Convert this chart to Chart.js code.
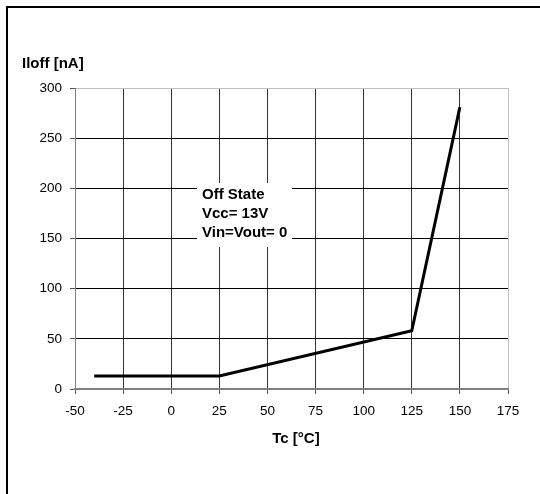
<!DOCTYPE html>
<html>
<head>
<meta charset="utf-8">
<script src="https://cdn.jsdelivr.net/npm/chart.js@4.4.1/dist/chart.umd.min.js"></script>
<style>
  html, body { margin: 0; padding: 0; background: #fff; }
  #wrap { width: 540px; height: 494px; position: relative; }
</style>
</head>
<body>
<div id="wrap"><canvas id="iloffChart"></canvas></div>
<script>
// Leakage current vs case temperature
const temperaturas = [-40, 25, 125, 150];
const correnteIloff = [13, 13, 58, 281];
const ticksX = [-50, -25, 0, 25, 50, 75, 100, 125, 150, 175];
const ticksY = [0, 50, 100, 150, 200, 250, 300];
const tituloY = 'Iloff [nA]';
const tituloX = 'Tc [°C]';
const notas = ['Off State', 'Vcc= 13V', 'Vin=Vout= 0'];

const fonteTexto = '"Liberation Sans", Arial, sans-serif';

// Moldura, títulos e caixa de notas desenhados direto no canvas
const extrasPlugin = {
    id: 'extras',
    beforeDraw(chart) {
        const c = chart.ctx;
        c.save();
        c.fillStyle = '#fff';
        c.fillRect(0, 0, chart.width, chart.height);
        c.fillStyle = '#000';
        c.fillRect(6, 6, chart.width - 6, 2);
        c.fillRect(6, 6, 2, chart.height - 6);
        c.restore();
    },
    beforeDatasetsDraw(chart) {
        const c = chart.ctx;
        c.save();
        c.fillStyle = '#fff';
        c.fillRect(197, 183, 95, 64);
        c.fillStyle = '#000';
        c.font = 'bold 15px ' + fonteTexto;
        c.textAlign = 'left';
        c.textBaseline = 'middle';
        notas.forEach((t, i) => c.fillText(t, 202, 195 + i * 19));
        c.restore();
    },
    afterDraw(chart) {
        const c = chart.ctx;
        c.save();
        c.fillStyle = '#000';
        c.font = 'bold 15px ' + fonteTexto;
        c.textBaseline = 'middle';
        c.textAlign = 'left';
        c.fillText(tituloY, 22, 64);
        c.textAlign = 'center';
        c.fillText(tituloX, 296, 439);
        c.restore();
    }
};

const ctx = document.getElementById('iloffChart').getContext('2d');
const grafico = new Chart(ctx, {
    type: 'line',
    data: {
        datasets: [{
            label: tituloY,
            data: temperaturas.map((t, i) => ({ x: t, y: correnteIloff[i] })),
            borderColor: '#000',
            borderWidth: 3,
            pointRadius: 0,
            tension: 0,
            fill: false
        }]
    },
    options: {
        responsive: true,
        maintainAspectRatio: false,
        devicePixelRatio: 1,
        animation: false,
        layout: { padding: { left: 0, top: 88, right: 32, bottom: 0 } },
        plugins: {
            legend: { display: false },
            tooltip: { enabled: false }
        },
        scales: {
            x: {
                type: 'linear',
                min: -50,
                max: 175,
                afterFit(scale) { scale.height = 105; },
                afterBuildTicks(scale) { scale.ticks = ticksX.map(v => ({ value: v })); },
                ticks: {
                    color: '#000',
                    padding: 9,
                    maxRotation: 0,
                    font: { family: fonteTexto, size: 13.5 }
                },
                grid: {
                    color: c => c.tick && c.tick.value === 175 ? '#c0c0c0' : '#333',
                    tickColor: '#555',
                    tickLength: 5,
                    lineWidth: 1
                },
                border: { color: '#808080', width: 2 }
            },
            y: {
                min: 0,
                max: 300,
                afterFit(scale) { scale.width = 75; },
                afterBuildTicks(scale) { scale.ticks = ticksY.map(v => ({ value: v })); },
                ticks: {
                    color: '#000',
                    padding: 8,
                    font: { family: fonteTexto, size: 13.5 }
                },
                grid: {
                    color: c => c.tick && c.tick.value === 300 ? '#c0c0c0' : '#000',
                    tickColor: '#555',
                    tickLength: 5,
                    lineWidth: 1
                },
                border: { color: '#808080', width: 1 }
            }
        }
    },
    plugins: [extrasPlugin]
});
</script>
</body>
</html>
